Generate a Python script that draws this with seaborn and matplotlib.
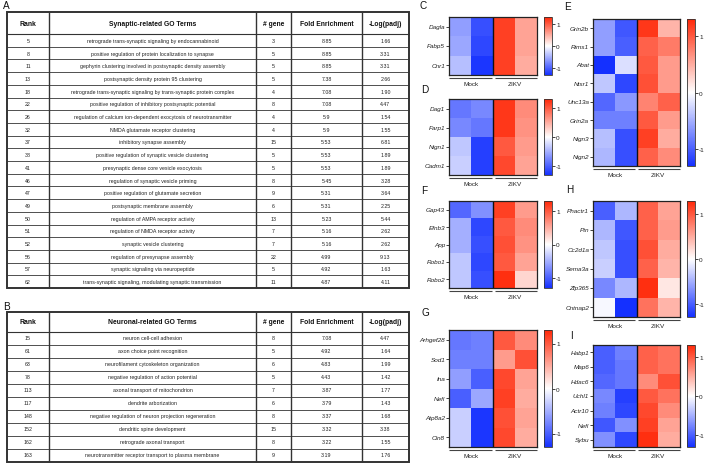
import numpy as np
import pandas as pd
import matplotlib
matplotlib.use("Agg")
import matplotlib.pyplot as plt
import seaborn as sns
from matplotlib.colors import LinearSegmentedColormap
from matplotlib.patches import Rectangle

plt.rcParams['font.family'] = ['Liberation Sans', 'DejaVu Sans']
plt.rcParams['axes.unicode_minus'] = False

# ---------------- Table A data ----------------
a_rank = [5, 8, 11, 13, 18, 22, 26, 32, 37, 38, 41, 46, 47, 49, 50, 51, 52, 56, 57, 62]
a_terms = [
    "retrograde trans-synaptic signaling by endocannabinoid",
    "positive regulation of protein localization to synapse",
    "gephyrin clustering involved in postsynaptic density assembly",
    "postsynaptic density protein 95 clustering",
    "retrograde trans-synaptic signaling by trans-synaptic protein complex",
    "positive regulation of inhibitory postsynaptic potential",
    "regulation of calcium ion-dependent exocytosis of neurotransmitter",
    "NMDA glutamate receptor clustering",
    "inhibitory synapse assembly",
    "positive regulation of synaptic vesicle clustering",
    "presynaptic dense core vesicle exocytosis",
    "regulation of synaptic vesicle priming",
    "positive regulation of glutamate secretion",
    "postsynaptic membrane assembly",
    "regulation of AMPA receptor activity",
    "regulation of NMDA receptor activity",
    "synaptic vesicle clustering",
    "regulation of presynapse assembly",
    "synaptic signaling via neuropeptide",
    "trans-synaptic signaling, modulating synaptic transmission",
]
a_ngene = [3, 5, 5, 5, 4, 8, 4, 4, 15, 5, 5, 8, 9, 6, 13, 7, 7, 22, 5, 11]
a_fold = ["8.85", "8.85", "8.85", "7.38", "7.08", "7.08", "5.9", "5.9", "5.53", "5.53",
          "5.53", "5.45", "5.31", "5.31", "5.23", "5.16", "5.16", "4.99", "4.92", "4.87"]
a_logp = ["1.66", "3.31", "3.31", "2.66", "1.90", "4.47", "1.54", "1.55", "6.81", "1.89",
          "1.89", "3.28", "3.64", "2.25", "5.44", "2.62", "2.62", "9.13", "1.63", "4.11"]

# ---------------- Table B data ----------------
b_rank = [15, 61, 63, 78, 113, 117, 148, 152, 162, 163]
b_terms = [
    "neuron cell-cell adhesion",
    "axon choice point recognition",
    "neurofilament cytoskeleton organization",
    "negative regulation of action potential",
    "axonal transport of mitochondrion",
    "dendrite arborization",
    "negative regulation of neuron projection regeneration",
    "dendritic spine development",
    "retrograde axonal transport",
    "neurotransmitter receptor transport to plasma membrane",
]
b_ngene = [8, 5, 6, 5, 7, 6, 8, 15, 8, 9]
b_fold = ["7.08", "4.92", "4.83", "4.43", "3.87", "3.79", "3.37", "3.32", "3.22", "3.19"]
b_logp = ["4.47", "1.64", "1.99", "1.42", "1.77", "1.43", "1.68", "3.38", "1.55", "1.76"]

# ---------------- Heatmap data (row z-scores: Mock1, Mock2, ZIKV1, ZIKV2) ----------------
samples = ["Mock 1", "Mock 2", "ZIKV 1", "ZIKV 2"]

c_genes = ["Dagla", "Fabp5", "Cnr1"]
c_vals = [[-0.60, -1.10, 1.15, 0.55],
          [-0.55, -1.15, 1.15, 0.55],
          [-0.40, -1.25, 1.15, 0.50]]

d_genes = ["Dag1", "Farp1", "Nlgn1", "Cadm1"]
d_vals = [[-0.85, -0.75, 1.20, 0.70],
          [-0.75, -0.85, 1.20, 0.65],
          [-0.35, -1.20, 1.00, 0.60],
          [-0.30, -1.20, 1.10, 0.55]]

e_genes = ["Grin2b", "Rims1", "Abat", "Ntsr1", "Unc13a", "Grin2a", "Nlgn3", "Nlgn2"]
e_vals = [[-0.60, -1.05, 1.20, 0.45],
          [-0.60, -1.00, 0.95, 0.80],
          [-1.30, -0.20, 1.00, 0.60],
          [-0.35, -1.15, 1.05, 0.60],
          [-0.95, -0.65, 0.75, 0.95],
          [-0.80, -0.80, 1.00, 0.60],
          [-0.40, -1.10, 1.15, 0.50],
          [-0.45, -1.10, 0.95, 0.70]]

f_genes = ["Gap43", "Efnb3", "App", "Robo1", "Robo2"]
f_vals = [[-0.95, -0.70, 1.15, 0.60],
          [-0.50, -1.15, 1.00, 0.70],
          [-0.50, -1.10, 1.05, 0.65],
          [-0.35, -1.15, 1.00, 0.55],
          [-0.35, -1.10, 1.25, 0.25]]

g_genes = ["Arhgef28", "Sod1", "Ina", "Nefl", "Atp8a2", "Cln8"]
g_vals = [[-0.85, -0.80, 1.00, 0.70],
          [-0.80, -0.80, 0.60, 1.05],
          [-0.60, -1.00, 1.10, 0.55],
          [-1.00, -0.55, 1.15, 0.50],
          [-0.30, -1.25, 1.05, 0.55],
          [-0.30, -1.25, 1.10, 0.50]]

h_genes = ["Phactr1", "Ptn", "Cc2d1a", "Sema3a", "Zfp365", "Cntnap2"]
h_vals = [[-1.00, -0.45, 0.95, 0.55],
          [-0.45, -1.05, 0.95, 0.60],
          [-0.35, -1.10, 1.05, 0.50],
          [-0.30, -1.10, 0.95, 0.45],
          [-0.75, -0.45, 1.25, 0.15],
          [-0.05, -1.30, 0.85, 0.45]]

i_genes = ["Habp1", "Map6", "Hdac6", "Uchl1", "Actr10", "Nefl", "Sybu"]
i_vals = [[-1.00, -0.80, 0.95, 0.85],
          [-1.00, -0.85, 0.95, 0.85],
          [-0.95, -0.85, 0.70, 1.05],
          [-0.75, -1.20, 1.00, 0.85],
          [-0.80, -1.15, 1.10, 0.70],
          [-1.05, -0.70, 1.15, 0.55],
          [-0.70, -1.15, 1.25, 0.50]]

# ---------------- Figure ----------------
W, H = 706, 464
fig = plt.figure(figsize=(W / 100, H / 100), dpi=100)
bg = fig.add_axes([0, 0, 1, 1])
bg.set_xlim(0, W)
bg.set_ylim(H, 0)
bg.axis('off')

cmap = LinearSegmentedColormap.from_list("bwr_gp", ["#1430ff", "#ffffff", "#ff2808"])
LINE = "#333333"


def px_ax(x0, y0, x1, y1):
    return fig.add_axes([x0 / W, 1 - y1 / H, (x1 - x0) / W, (y1 - y0) / H])


cols = [7, 49, 256, 291, 362, 409]


def draw_table(top, head_bottom, row_h, title, ranks, terms, ngene, fold, logp):
    n = len(ranks)
    bottom = head_bottom + n * row_h
    for k in range(n):
        y = head_bottom + k * row_h
        bg.plot([cols[0], cols[-1]], [y, y], color=LINE, lw=0.8 if k == 0 else 0.6,
                solid_capstyle='butt')
    for x in cols[1:-1]:
        bg.plot([x, x], [top, bottom], color=LINE, lw=1.0, solid_capstyle='butt')
    bg.add_patch(Rectangle((cols[0], top), cols[-1] - cols[0], bottom - top,
                           fill=False, ec=LINE, lw=1.4))
    centers = [(cols[i] + cols[i + 1]) / 2 for i in range(5)]
    headers = ["Rank", title, "# gene", "Fold Enrichment", "-Log(padj)"]
    for c, h in zip(centers, headers):
        bg.text(c, (top + head_bottom) / 2, h, ha='center', va='center',
                fontsize=4.9, fontweight='bold', color='#111111')
    for k in range(n):
        yc = head_bottom + (k + 0.5) * row_h
        for c, v in zip(centers, [ranks[k], terms[k], ngene[k], fold[k], logp[k]]):
            bg.text(c, yc, str(v), ha='center', va='center', fontsize=3.8,
                    color='#222222')


draw_table(13, 35, 12.7, "Synaptic-related GO Terms", a_rank, a_terms, a_ngene, a_fold, a_logp)
draw_table(313, 332.5, 13.0, "Neuronal-related GO Terms", b_rank, b_terms, b_ngene, b_fold, b_logp)


def draw_heat(rect, cbar_x, genes, vals):
    x0, y0, x1, y1 = rect
    ax = px_ax(x0, y0, x1, y1)
    cax = px_ax(cbar_x[0], y0, cbar_x[1], y1)
    df = pd.DataFrame(vals, index=genes, columns=samples)
    sns.heatmap(df, ax=ax, cbar_ax=cax, cmap=cmap, vmin=-1.3, vmax=1.3,
                xticklabels=False, yticklabels=True)
    ax.axvline(2, color='#111111', lw=1.0)
    for s in ax.spines.values():
        s.set_visible(True)
        s.set_linewidth(0.9)
        s.set_color('#222222')
    ax.set_xlabel('')
    ax.set_ylabel('')
    ax.tick_params(axis='y', left=True, length=2, width=0.6, pad=0.8, labelsize=4.6,
                   colors='#222222')
    for t in ax.get_yticklabels():
        t.set_style('italic')
        t.set_rotation(0)
    cax.set_yticks([-1, 0, 1])
    cax.set_yticklabels(['-1', '0', '1'])
    cax.tick_params(length=2, width=0.6, pad=1.0, labelsize=4.6, colors='#222222')
    cb = ax.collections[0].colorbar
    cb.outline.set_linewidth(0.6)
    cb.outline.set_edgecolor('#333333')
    mid = (x0 + x1) / 2
    ly = y1 + 3
    bg.plot([x0, mid - 1.5], [ly, ly], color='#444444', lw=0.8, solid_capstyle='butt')
    bg.plot([mid + 1.5, x1], [ly, ly], color='#444444', lw=0.8, solid_capstyle='butt')
    bg.text((x0 + mid) / 2, ly + 5.5, "Mock", ha='center', va='center', fontsize=4.6,
            color='#222222')
    bg.text((mid + x1) / 2, ly + 5.5, "ZIKV", ha='center', va='center', fontsize=4.6,
            color='#222222')


left_cb = (544, 552)
right_cb = (687, 695)
draw_heat((449, 18, 537, 76), left_cb, c_genes, c_vals)
draw_heat((449, 100, 537, 176), left_cb, d_genes, d_vals)
draw_heat((449, 202, 537, 289), left_cb, f_genes, f_vals)
draw_heat((449, 331, 537, 448), left_cb, g_genes, g_vals)
draw_heat((593, 20, 680, 167), right_cb, e_genes, e_vals)
draw_heat((593, 202, 680, 318), right_cb, h_genes, h_vals)
draw_heat((593, 346, 680, 448), right_cb, i_genes, i_vals)

for lab, x, y in [("A", 3, 6), ("B", 3, 307), ("C", 420, 6), ("D", 421, 90),
                  ("F", 421, 191), ("G", 421, 313), ("E", 564, 7), ("H", 566, 190),
                  ("I", 570, 336)]:
    bg.text(x, y, lab, ha='left', va='center', fontsize=7.2, color='#111111')

fig.savefig("out.png", dpi=100)
